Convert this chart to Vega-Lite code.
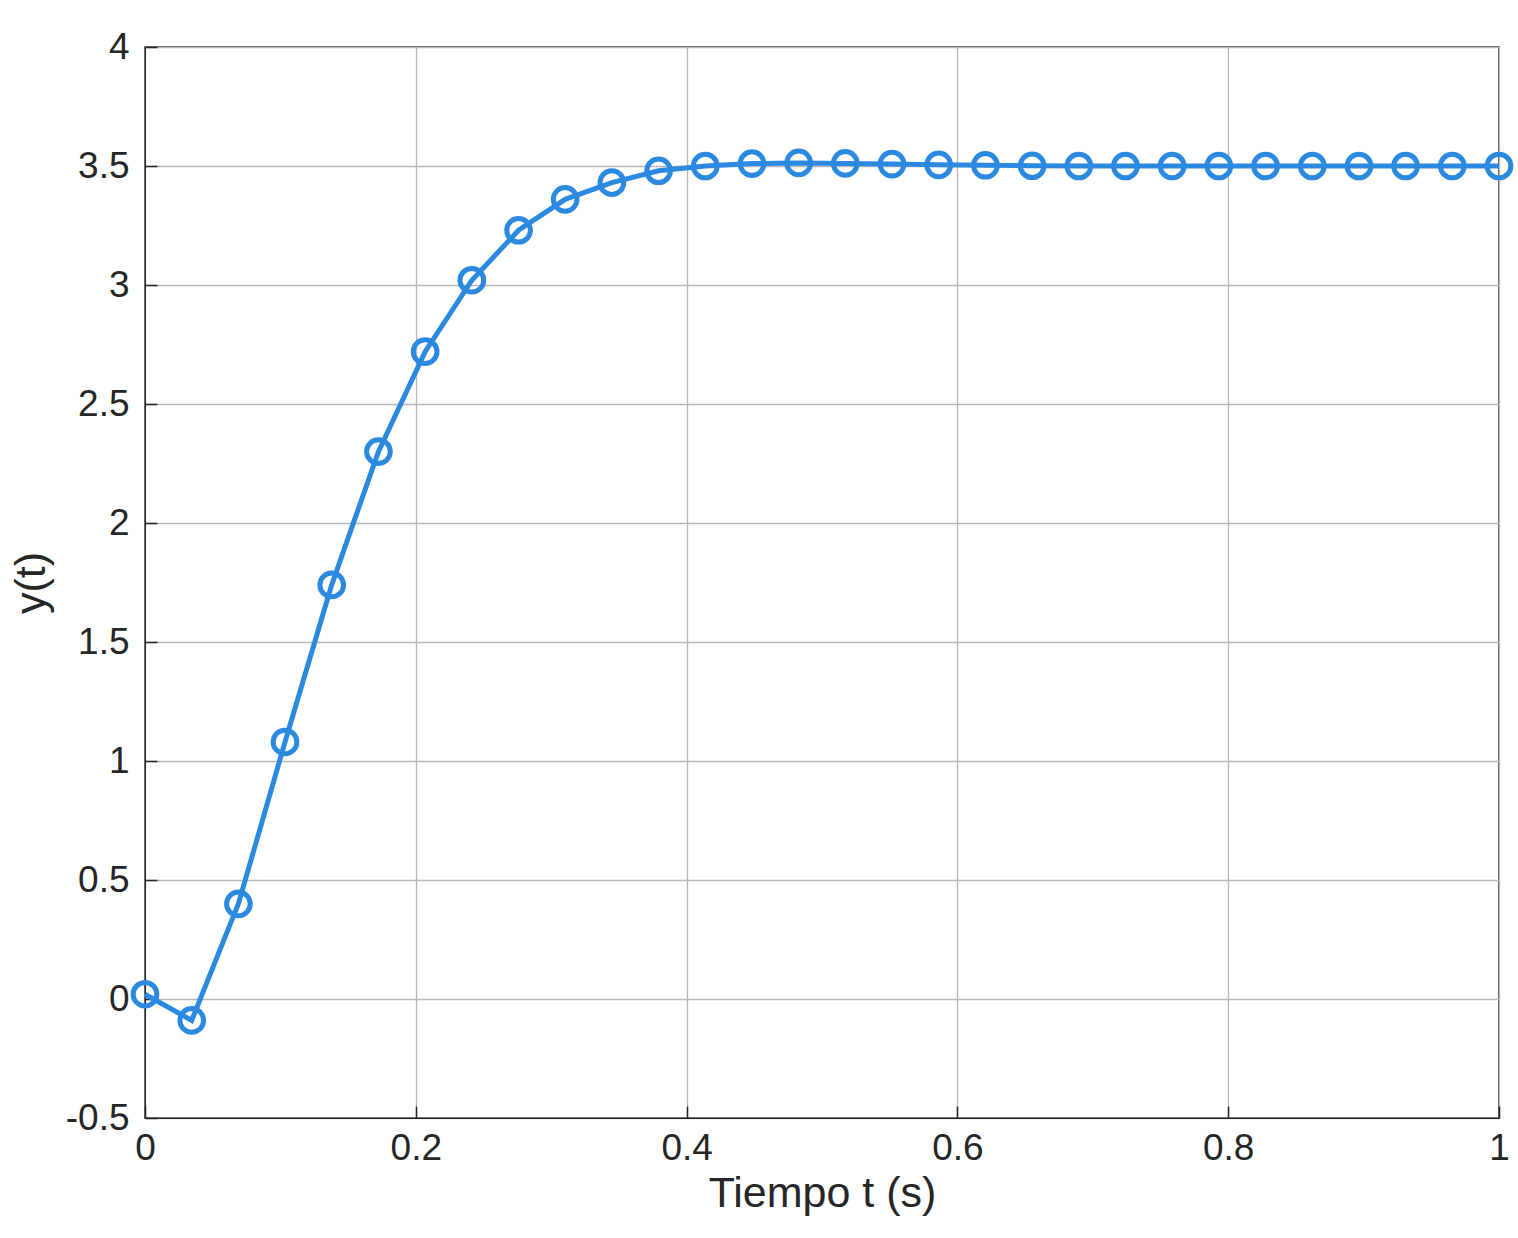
{
  "$schema": "https://vega.github.io/schema/vega-lite/v6.json",
  "autosize": {"type": "none"},
  "padding": {"left": 145, "top": 47, "right": 19, "bottom": 120},
  "width": 1354,
  "height": 1071,
  "background": "white",
  "title": {
    "text": "Respuesta al escalon unitario y(t)",
    "font": "Liberation Sans",
    "fontSize": 42,
    "fontWeight": "bold",
    "color": "#262626",
    "offset": 6,
    "baseline": "bottom",
    "anchor": "middle"
  },
  "config": {
    "view": {"stroke": "#262626", "strokeWidth": 1.5},
    "axis": {
      "labelFont": "Liberation Sans",
      "titleFont": "Liberation Sans",
      "labelFontSize": 37,
      "titleFontSize": 43,
      "titleFontWeight": "normal",
      "labelColor": "#262626",
      "titleColor": "#262626",
      "domainColor": "#262626",
      "tickColor": "#262626",
      "gridColor": "#b8b8b8",
      "gridWidth": 1.3,
      "tickSize": -12,
      "tickWidth": 1.5,
      "labelFlush": false,
      "labelExpr": "replace(datum.label, '−', '-')"
    }
  },
  "data": {
    "values": [
      {"t": 0.0, "y": 0.02},
      {"t": 0.0345, "y": -0.09},
      {"t": 0.069, "y": 0.40},
      {"t": 0.1034, "y": 1.08},
      {"t": 0.1379, "y": 1.74},
      {"t": 0.1724, "y": 2.30},
      {"t": 0.2069, "y": 2.72},
      {"t": 0.2414, "y": 3.02},
      {"t": 0.2759, "y": 3.23},
      {"t": 0.3103, "y": 3.36},
      {"t": 0.3448, "y": 3.43},
      {"t": 0.3793, "y": 3.48},
      {"t": 0.4138, "y": 3.50},
      {"t": 0.4483, "y": 3.51},
      {"t": 0.4828, "y": 3.513},
      {"t": 0.5172, "y": 3.511},
      {"t": 0.5517, "y": 3.508},
      {"t": 0.5862, "y": 3.505},
      {"t": 0.6207, "y": 3.503},
      {"t": 0.6552, "y": 3.501},
      {"t": 0.6897, "y": 3.5},
      {"t": 0.7241, "y": 3.5},
      {"t": 0.7586, "y": 3.5},
      {"t": 0.7931, "y": 3.5},
      {"t": 0.8276, "y": 3.5},
      {"t": 0.8621, "y": 3.5},
      {"t": 0.8966, "y": 3.5},
      {"t": 0.931, "y": 3.5},
      {"t": 0.9655, "y": 3.5},
      {"t": 1.0, "y": 3.5}
    ]
  },
  "encoding": {
    "x": {
      "field": "t", "type": "quantitative",
      "scale": {"domain": [0, 1], "nice": false, "zero": false},
      "axis": {"title": "Tiempo t (s)", "values": [0, 0.2, 0.4, 0.6, 0.8, 1], "labelPadding": 24, "titlePadding": 6, "format": "~g"}
    },
    "y": {
      "field": "y", "type": "quantitative",
      "scale": {"domain": [-0.5, 4], "nice": false, "zero": false},
      "axis": {"title": "y(t)", "values": [-0.5, 0, 0.5, 1, 1.5, 2, 2.5, 3, 3.5, 4], "labelPadding": 28, "titlePadding": 12, "format": "~g"}
    }
  },
  "layer": [
    {"mark": {"type": "line", "color": "#2b8ae0", "strokeWidth": 5, "clip": false}},
    {"mark": {"type": "point", "shape": "circle", "filled": false, "color": "#2b8ae0", "size": 560, "strokeWidth": 5, "opacity": 1, "clip": false}}
  ]
}
